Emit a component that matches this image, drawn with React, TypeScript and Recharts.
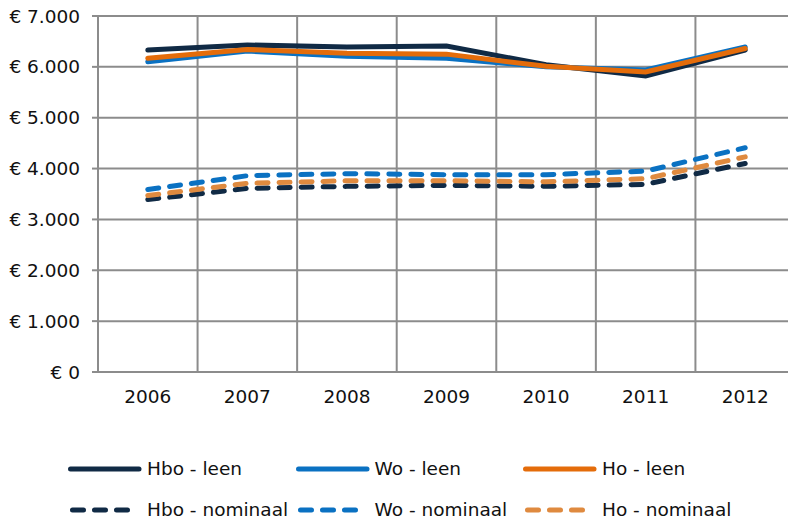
import { CartesianGrid, Line, LineChart, XAxis, YAxis } from "recharts";

const years = ["2006", "2007", "2008", "2009", "2010", "2011", "2012"];

const hboLeen = [6330, 6430, 6390, 6410, 6040, 5820, 6330];
const woLeen = [6100, 6310, 6210, 6170, 6000, 5940, 6390];
const hoLeen = [6170, 6340, 6270, 6250, 6010, 5900, 6360];
const hboNominaal = [3390, 3610, 3650, 3670, 3650, 3690, 4100];
const woNominaal = [3590, 3860, 3900, 3880, 3880, 3950, 4410];
const hoNominaal = [3470, 3710, 3760, 3760, 3740, 3800, 4230];

const yTicks = [0, 1000, 2000, 3000, 4000, 5000, 6000, 7000];

const NAVY = "#102a45";
const BLUE = "#0a71c2";
const ORANGE = "#e46c0a";
const LIGHT_ORANGE = "#df8a3f";
const GRID = "#8c8c8c";
const FONT = "'DejaVu Sans', Verdana, sans-serif";

const series = [
  { key: "hboNominaal", name: "Hbo - nominaal", color: NAVY, dashed: true, values: hboNominaal },
  { key: "woNominaal", name: "Wo - nominaal", color: BLUE, dashed: true, values: woNominaal },
  { key: "hoNominaal", name: "Ho - nominaal", color: LIGHT_ORANGE, dashed: true, values: hoNominaal },
  { key: "hboLeen", name: "Hbo - leen", color: NAVY, dashed: false, values: hboLeen },
  { key: "woLeen", name: "Wo - leen", color: BLUE, dashed: false, values: woLeen },
  { key: "hoLeen", name: "Ho - leen", color: ORANGE, dashed: false, values: hoLeen },
];

const legendRows = [
  ["hboLeen", "woLeen", "hoLeen"],
  ["hboNominaal", "woNominaal", "hoNominaal"],
];

const data = years.map((year, i) => {
  const row: Record<string, string | number> = { year };
  series.forEach((s) => {
    row[s.key] = s.values[i];
  });
  return row;
});

const CHART_W = 795;
const AXIS_W = 98;
const BAND = (CHART_W - AXIS_W) / years.length;

const euro = (v: number) =>
  "€ " + String(v).replace(/\B(?=(\d{3})+(?!\d))/g, ".");

function LegendIcon({ color, dashed }: { color: string; dashed: boolean }) {
  return (
    <svg width={81} height={10} style={{ display: "block" }}>
      <line
        x1={dashed ? 6.5 : 4.5}
        y1={5}
        x2={dashed ? 62 : 73}
        y2={5}
        stroke={color}
        strokeWidth={5}
        strokeLinecap="round"
        strokeDasharray={dashed ? "11 11" : undefined}
      />
    </svg>
  );
}

export default function App() {
  return (
    <div
      style={{
        position: "absolute",
        left: 0,
        top: 0,
        width: 788,
        height: 521,
        overflow: "hidden",
        background: "#fff",
        fontFamily: FONT,
      }}
    >
      <LineChart
        width={CHART_W}
        height={430}
        data={data}
        margin={{ top: 16, right: 0, bottom: 18, left: 0 }}
      >
        <CartesianGrid
          stroke={GRID}
          strokeWidth={2}
          verticalCoordinatesGenerator={({ offset }: any) =>
            years
              .map((_, i) => offset.left + (offset.width * i) / years.length)
              .concat(offset.left + offset.width)
          }
        />
        <XAxis
          dataKey="year"
          padding={{ left: BAND / 2, right: BAND / 2 }}
          height={40}
          tickSize={0}
          tickMargin={18}
          axisLine={{ stroke: GRID, strokeWidth: 2 }}
          tick={{ fill: "#111", fontSize: 18.5, fontFamily: FONT }}
        />
        <YAxis
          width={AXIS_W}
          domain={[0, 7000]}
          ticks={yTicks}
          tickFormatter={euro}
          tickSize={6}
          tickMargin={12}
          axisLine={{ stroke: GRID, strokeWidth: 2 }}
          tickLine={{ stroke: GRID, strokeWidth: 2 }}
          tick={{ fill: "#111", fontSize: 18.5, fontFamily: FONT }}
        />
        {series.map((s) => (
          <Line
            key={s.key}
            dataKey={s.key}
            name={s.name}
            stroke={s.color}
            strokeWidth={5}
            strokeLinecap="round"
            strokeDasharray={s.dashed ? "11 11" : undefined}
            dot={false}
            activeDot={false}
            isAnimationActive={false}
          />
        ))}
      </LineChart>
      {legendRows.map((row, r) => (
        <div
          key={r}
          style={{
            position: "absolute",
            left: 66,
            top: 448 + r * 41,
            height: 41,
            display: "flex",
            alignItems: "center",
          }}
        >
          {row.map((k) => {
            const s = series.find((x) => x.key === k)!;
            return (
              <div
                key={k}
                style={{ width: 227.5, display: "flex", alignItems: "center" }}
              >
                <LegendIcon color={s.color} dashed={s.dashed} />
                <span style={{ fontSize: 18.5, color: "#111", whiteSpace: "nowrap" }}>
                  {s.name}
                </span>
              </div>
            );
          })}
        </div>
      ))}
    </div>
  );
}
